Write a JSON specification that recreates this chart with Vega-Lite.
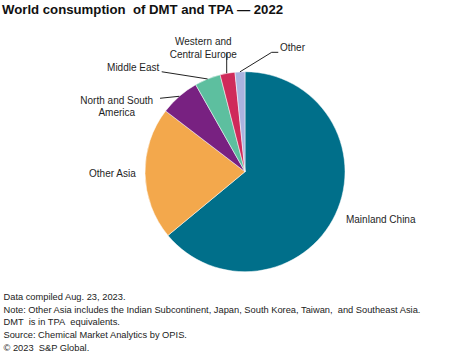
{
  "$schema": "https://vega.github.io/schema/vega-lite/v6.json",
  "width": 473,
  "height": 354,
  "autosize": {"type": "none"},
  "padding": 0,
  "background": "white",
  "title": {
    "text": "World consumption\u00a0 of DMT and TPA — 2022",
    "anchor": "start",
    "frame": "group",
    "offset": -17.5,
    "dx": 2,
    "font": "Liberation Sans",
    "fontSize": 13.2,
    "fontWeight": "bold",
    "color": "#111111"
  },
  "config": {
    "view": {"stroke": null},
    "axis": {"domain": false, "ticks": false, "labels": false, "grid": false},
    "text": {"font": "Liberation Sans", "fontSize": 10, "color": "#1e1e1e"}
  },
  "data": {
    "values": [
      {"category": "Mainland China", "label": "Mainland China", "value": 64.0, "order": 1},
      {"category": "Other Asia", "label": "Other Asia", "value": 21.4, "order": 2},
      {"category": "North and South America", "label": "North and South\nAmerica", "value": 6.4, "order": 3},
      {"category": "Middle East", "label": "Middle East", "value": 4.2, "order": 4},
      {"category": "Western and Central Europe", "label": "Western and\nCentral Europe", "value": 2.4, "order": 5},
      {"category": "Other", "label": "Other", "value": 1.6, "order": 6}
    ]
  },
  "transform": [
    {"window": [{"op": "sum", "field": "value", "as": "cum"}], "sort": [{"field": "order"}], "frame": [null, 0]},
    {"joinaggregate": [{"op": "sum", "field": "value", "as": "total"}]},
    {"calculate": "(datum.cum - datum.value / 2) / datum.total * 2 * PI", "as": "mid"},
    {"calculate": "sin(datum.mid)", "as": "ex"},
    {"calculate": "cos(datum.mid)", "as": "ey"}
  ],
  "layer": [
    {
      "mark": {"type": "arc", "outerRadius": 100, "stroke": "white", "strokeWidth": 0.5},
      "encoding": {
        "theta": {"field": "value", "type": "quantitative", "stack": true},
        "order": {"field": "order", "type": "quantitative"},
        "color": {
          "field": "category", "type": "nominal", "legend": null,
          "scale": {
            "domain": ["Mainland China", "Other Asia", "North and South America", "Middle East", "Western and Central Europe", "Other"],
            "range": ["#006F8A", "#F3A84C", "#782181", "#5DBF9F", "#CF2A5A", "#AAB3DF"]
          }
        },
        "x": {
          "datum": 0, "type": "quantitative",
          "scale": {"domain": [-2.45, 2.28], "nice": false, "zero": false},
          "axis": {
            "title": [
              "Data compiled Aug. 23, 2023.",
              "Note: Other Asia includes the Indian Subcontinent, Japan, South Korea, Taiwan,\u00a0 and Southeast Asia.",
              "DMT\u00a0 is in TPA\u00a0 equivalents.",
              "Source: Chemical Market Analytics by OPIS.",
              "© 2023\u00a0 S&P Global."
            ],
            "orient": "bottom",
            "titleFont": "Liberation Sans",
            "titleFontSize": 9.3,
            "titleFontWeight": "normal",
            "titleColor": "#222222",
            "titleAnchor": "start",
            "titleAlign": "left",
            "titleBaseline": "alphabetic",
            "titleLineHeight": 12.7,
            "titleX": 3,
            "titleY": -54.5
          }
        },
        "y": {
          "datum": 0, "type": "quantitative",
          "scale": {"domain": [-1.823, 1.717], "nice": false, "zero": false},
          "axis": null
        }
      }
    },
    {
      "transform": [{"filter": "datum.category == 'Mainland China'"}],
      "mark": {"type": "text", "align": "left", "baseline": "middle", "dx": 10.5, "dy": 5.7},
      "encoding": {
        "x": {"field": "ex", "type": "quantitative"},
        "y": {"field": "ey", "type": "quantitative", "axis": null},
        "text": {"field": "label"}
      }
    },
    {
      "transform": [{"filter": "datum.category == 'Other Asia'"}],
      "mark": {"type": "text", "align": "right", "baseline": "middle", "dx": -9.3, "dy": 0.7},
      "encoding": {
        "x": {"field": "ex", "type": "quantitative"},
        "y": {"field": "ey", "type": "quantitative", "axis": null},
        "text": {"field": "label"}
      }
    },
    {
      "transform": [{"filter": "datum.category == 'North and South America'"}],
      "mark": {"type": "text", "align": "center", "baseline": "middle", "lineBreak": "\n", "lineHeight": 12.3, "dx": -62.6, "dy": 4.9},
      "encoding": {
        "x": {"field": "ex", "type": "quantitative"},
        "y": {"field": "ey", "type": "quantitative", "axis": null},
        "text": {"field": "label"}
      }
    },
    {
      "transform": [{"filter": "datum.category == 'Middle East'"}],
      "mark": {"type": "text", "align": "right", "baseline": "middle", "dx": -48.3, "dy": -10.6},
      "encoding": {
        "x": {"field": "ex", "type": "quantitative"},
        "y": {"field": "ey", "type": "quantitative", "axis": null},
        "text": {"field": "label"}
      }
    },
    {
      "transform": [{"filter": "datum.category == 'Western and Central Europe'"}],
      "mark": {"type": "text", "align": "center", "baseline": "middle", "lineBreak": "\n", "lineHeight": 12.3, "dx": -24.2, "dy": -31},
      "encoding": {
        "x": {"field": "ex", "type": "quantitative"},
        "y": {"field": "ey", "type": "quantitative", "axis": null},
        "text": {"field": "label"}
      }
    },
    {
      "transform": [{"filter": "datum.category == 'Other'"}],
      "mark": {"type": "text", "align": "left", "baseline": "middle", "dx": 40, "dy": -23.5},
      "encoding": {
        "x": {"field": "ex", "type": "quantitative"},
        "y": {"field": "ey", "type": "quantitative", "axis": null},
        "text": {"field": "label"}
      }
    },
    {
      "transform": [{"filter": "datum.category == 'North and South America'"}],
      "mark": {"type": "rule", "color": "#222222", "strokeWidth": 1, "x2Offset": -19.3, "y2Offset": 2},
      "encoding": {
        "x": {"field": "ex", "type": "quantitative"},
        "y": {"field": "ey", "type": "quantitative", "axis": null},
        "x2": {"field": "ex"},
        "y2": {"field": "ey"}
      }
    },
    {
      "transform": [{"filter": "datum.category == 'Middle East'"}],
      "mark": {"type": "rule", "color": "#222222", "strokeWidth": 1, "x2Offset": -45.9, "y2Offset": -7.2},
      "encoding": {
        "x": {"field": "ex", "type": "quantitative"},
        "y": {"field": "ey", "type": "quantitative", "axis": null},
        "x2": {"field": "ex"},
        "y2": {"field": "ey"}
      }
    },
    {
      "transform": [{"filter": "datum.category == 'Western and Central Europe'"}],
      "mark": {"type": "rule", "color": "#222222", "strokeWidth": 1, "xOffset": -0.8, "x2Offset": -0.8, "y2Offset": -19.9},
      "encoding": {
        "x": {"field": "ex", "type": "quantitative"},
        "y": {"field": "ey", "type": "quantitative", "axis": null},
        "x2": {"field": "ex"},
        "y2": {"field": "ey"}
      }
    },
    {
      "transform": [{"filter": "datum.category == 'Other'"}],
      "mark": {"type": "rule", "color": "#222222", "strokeWidth": 1, "x2Offset": 31.7, "y2Offset": -19.5},
      "encoding": {
        "x": {"field": "ex", "type": "quantitative"},
        "y": {"field": "ey", "type": "quantitative", "axis": null},
        "x2": {"field": "ex"},
        "y2": {"field": "ey"}
      }
    },
    {
      "transform": [{"filter": "datum.category == 'Other'"}],
      "mark": {"type": "rule", "color": "#222222", "strokeWidth": 1, "xOffset": 31.7, "yOffset": -19.5, "x2Offset": 38.3, "y2Offset": -19.5},
      "encoding": {
        "x": {"field": "ex", "type": "quantitative"},
        "y": {"field": "ey", "type": "quantitative", "axis": null},
        "x2": {"field": "ex"},
        "y2": {"field": "ey"}
      }
    }
  ]
}
